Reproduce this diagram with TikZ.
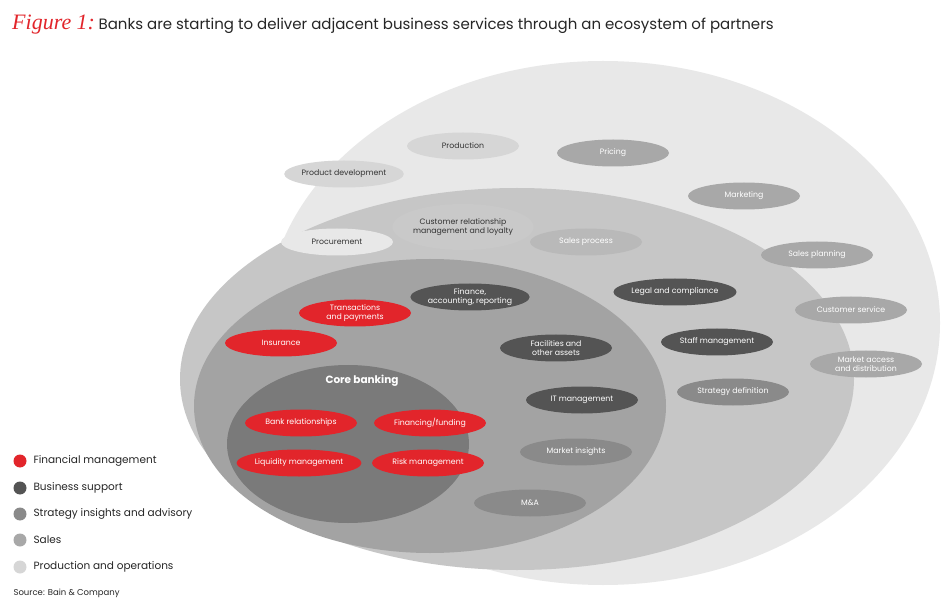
\documentclass[tikz,border=0pt]{standalone}
\usepackage{fontspec}
\setmainfont{Poppins}
\newfontfamily\figfont{Liberation Serif}
\usetikzlibrary{shapes.geometric}
\definecolor{cred}{HTML}{E2252B}
\definecolor{cdark}{HTML}{545454}
\definecolor{cstrat}{HTML}{8A8A8A}
\definecolor{csales}{HTML}{A8A8A8}
\definecolor{cprod}{HTML}{D6D6D6}
\definecolor{couter}{HTML}{E8E8E8}
\definecolor{cmid}{HTML}{C6C6C6}
\definecolor{cinner}{HTML}{A3A3A3}
\definecolor{ccore}{HTML}{7A7A7A}
\tikzset{
  pill/.style={ellipse, minimum width=112pt, minimum height=27pt, inner sep=0pt, align=center, font=\fontsize{7.8}{8.5}\selectfont},
  red/.style={pill, fill=cred, text=white},
  dark/.style={pill, fill=cdark, text=white},
  strat/.style={pill, fill=cstrat, text=white},
  sales/.style={pill, fill=csales, text=white},
  prod/.style={pill, fill=cprod, text=black!80},
  leg/.style={anchor=west, font=\fontsize{10.5}{12}\selectfont, text=black!85},
  dot/.style={circle, minimum size=13pt, inner sep=0pt}
}
\begin{document}
\begin{tikzpicture}[x=1pt,y=-1pt]
\useasboundingbox (0,0) rectangle (950,609);
\fill[white] (0,0) rectangle (950,609);
\node[anchor=west, inner sep=0] (title) at (12,25) {{\figfont\itshape\fontsize{22}{22}\selectfont\color{cred}Figure 1:} \fontsize{15}{17}\selectfont\color{black!85}Banks are starting to deliver adjacent business services through an ecosystem of partners};
\fill[couter] (603,323) ellipse (337 and 262);
\fill[cmid] (517,379) ellipse (337 and 191);
\fill[cinner] (430,406) ellipse (236 and 147);
\fill[ccore] (348,444) ellipse (121 and 79);
% outer ring
\node[prod] (production) at (463,146) {Production};
\node[prod] (proddev) at (344,174) {Product development};
\node[sales] (pricing) at (613,153) {Pricing};
\node[sales] (marketing) at (744,196) {Marketing};
\node[sales] (salesplan) at (817,255) {Sales planning};
\node[sales] (custserv) at (851,310) {Customer service};
\node[sales] (market) at (866,364) {Market access\\and distribution};
% middle ring
\node[prod, fill=couter] (procure) at (337,242) {Procurement};
\node[prod, minimum width=118pt, minimum height=46pt, fill=cprod!85!gray] (crm) at (463,227) {Customer relationship\\management and loyalty};
\node[sales, fill=csales!80!white] (salesproc) at (586,242) {Sales process};
\node[dark] (legal) at (675,292) {Legal and compliance};
\node[dark] (staff) at (717,342) {Staff management};
\node[strat] (stratdef) at (733,392) {Strategy definition};
% inner ring
\node[dark] (finance) at (470,297) {Finance,\\accounting, reporting};
\node[red] (trans) at (355,313) {Transactions\\and payments};
\node[red] (insur) at (281,343) {Insurance};
\node[dark] (facil) at (556,348) {Facilities and\\other assets};
\node[dark] (itm) at (582,400) {IT management};
\node[strat] (minsight) at (576,452) {Market insights};
\node[strat] (ma) at (530,503) {M\&A};
% core
\node[font=\bfseries\fontsize{10.5}{12}\selectfont, text=white] (core) at (362,381) {Core banking};
\node[red] (bankrel) at (301,423) {Bank relationships};
\node[red] (fin) at (430,423) {Financing/funding};
\node[red] (liq) at (299,463) {Liquidity management};
\node[red] (risk) at (428,463) {Risk management};
% legend
\node[dot, fill=cred] (d1) at (20,461) {};
\node[dot, fill=cdark] (d2) at (20,488) {};
\node[dot, fill=cstrat] (d3) at (20,514) {};
\node[dot, fill=csales] (d4) at (20,540) {};
\node[dot, fill=cprod] (d5) at (20,567) {};
\node[leg] (l1) at (30,461) {Financial management};
\node[leg] (l2) at (30,488) {Business support};
\node[leg] (l3) at (30,514) {Strategy insights and advisory};
\node[leg] (l4) at (30,540) {Sales};
\node[leg] (l5) at (30,567) {Production and operations};
\node[anchor=west, font=\fontsize{8.5}{10}\selectfont, text=black!85] (src) at (10,593) {Source: Bain \& Company};
\end{tikzpicture}
\end{document}
